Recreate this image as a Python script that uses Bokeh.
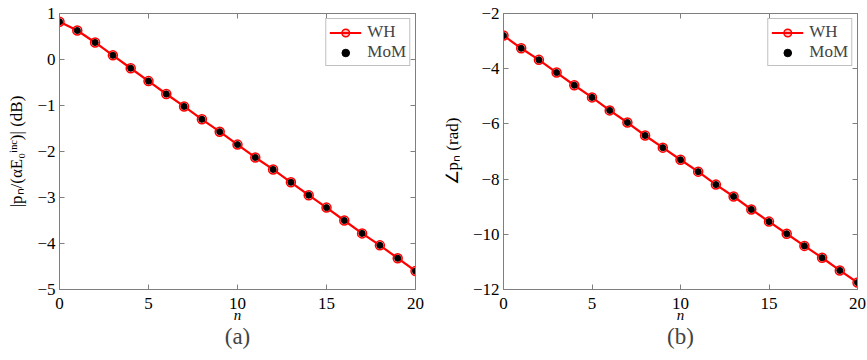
from bokeh.plotting import figure
from bokeh.layouts import row
from bokeh.models import Range1d, LinearAxis, FixedTicker, CustomJSTickFormatter, Title
from bokeh.embed import file_html
from bokeh.resources import INLINE

n = list(range(21))
mag_wh = [0.82, 0.63, 0.37, 0.09, -0.19, -0.47, -0.75, -1.02, -1.30, -1.57, -1.85,
          -2.13, -2.39, -2.67, -2.95, -3.22, -3.50, -3.78, -4.04, -4.32, -4.60]
mag_mom = list(mag_wh)
ang_wh = [-2.80, -3.26, -3.68, -4.14, -4.60, -5.04, -5.51, -5.95, -6.42, -6.86, -7.30,
          -7.73, -8.20, -8.63, -9.10, -9.54, -9.98, -10.42, -10.85, -11.31, -11.75]
ang_mom = list(ang_wh)
x_ticks = [0, 5, 10, 15, 20]
mag_ticks = [-5, -4, -3, -2, -1, 0, 1]
ang_ticks = [-12, -10, -8, -6, -4, -2]

FONT = "'Liberation Serif', 'Times New Roman', serif"


def make(ywh, ymom, yticks, ylabel, tag, width, bl, br):
    p = figure(width=width, height=360, output_backend="svg", toolbar_location=None,
               x_range=Range1d(0, 20), y_range=Range1d(yticks[0], yticks[-1]),
               min_border_left=bl, min_border_right=br, min_border_top=13, min_border_bottom=71)
    p.grid.visible = False
    p.outline_line_color = "#7f7f7f"
    p.outline_line_width = 1
    p.background_fill_color = "white"
    for ax, tk in ((p.xaxis[0], x_ticks), (p.yaxis[0], yticks)):
        ax.ticker = FixedTicker(ticks=tk)
        ax.major_tick_in = 5
        ax.major_tick_out = 0
        ax.minor_tick_line_color = None
        ax.axis_line_color = "#7f7f7f"
        ax.major_tick_line_color = "#7f7f7f"
        ax.major_label_text_font = FONT
        ax.major_label_text_font_size = "17px"
        ax.major_label_text_color = "black"
        ax.axis_label_text_font = FONT
        ax.axis_label_text_font_style = "normal"
        ax.axis_label_text_color = "black"
    p.xaxis.axis_label = "n"
    p.xaxis.axis_label_text_font_style = "italic"
    p.xaxis.axis_label_text_font_size = "15px"
    p.xaxis.axis_label_standoff = -5
    p.xaxis.major_label_standoff = 8
    p.yaxis.axis_label = ylabel
    p.yaxis.axis_label_text_font_size = "17px"
    p.yaxis.axis_label_standoff = 8
    p.yaxis.major_label_standoff = 4
    for loc, tk in (("above", x_ticks), ("right", yticks)):
        a = LinearAxis(ticker=FixedTicker(ticks=tk),
                       formatter=CustomJSTickFormatter(code="return ''"),
                       major_tick_in=5, major_tick_out=0,
                       minor_tick_line_color=None, axis_line_color="#7f7f7f",
                       major_tick_line_color="#7f7f7f", major_label_standoff=0)
        p.add_layout(a, loc)
    p.add_layout(Title(text=tag, text_font=FONT, text_font_size="23px",
                       text_font_style="normal", align="center", standoff=-8, offset=0), "below")
    p.line(n, ywh, line_color="red", line_width=2.2, legend_label="WH")
    p.scatter(n, ywh, marker="circle", size=9, line_color="red", line_width=1.5,
              fill_color="red", fill_alpha=0.25, legend_label="WH")
    p.scatter(n, ymom, marker="circle", size=6, fill_color="black", line_color="black",
              legend_label="MoM")
    lg = p.legend[0]
    lg.location = "top_right"
    lg.label_text_font = FONT
    lg.label_text_font_size = "17px"
    lg.border_line_color = "#7f7f7f"
    lg.margin = 5
    lg.padding = 3
    lg.spacing = 0
    lg.label_height = 19
    lg.glyph_height = 19
    lg.glyph_width = 32
    lg.label_standoff = 6
    return p


pa = make(mag_wh, mag_mom, mag_ticks, "|pₙ/(αE₀ⁱⁿᶜ)| (dB)", "(a)", 430, 59, 15)
pb = make(ang_wh, ang_mom, ang_ticks, "∠pₙ (rad)", "(b)", 437, 73, 10)

layout = row(pa, pb)
open("out.html", "w").write(file_html(layout, INLINE))
